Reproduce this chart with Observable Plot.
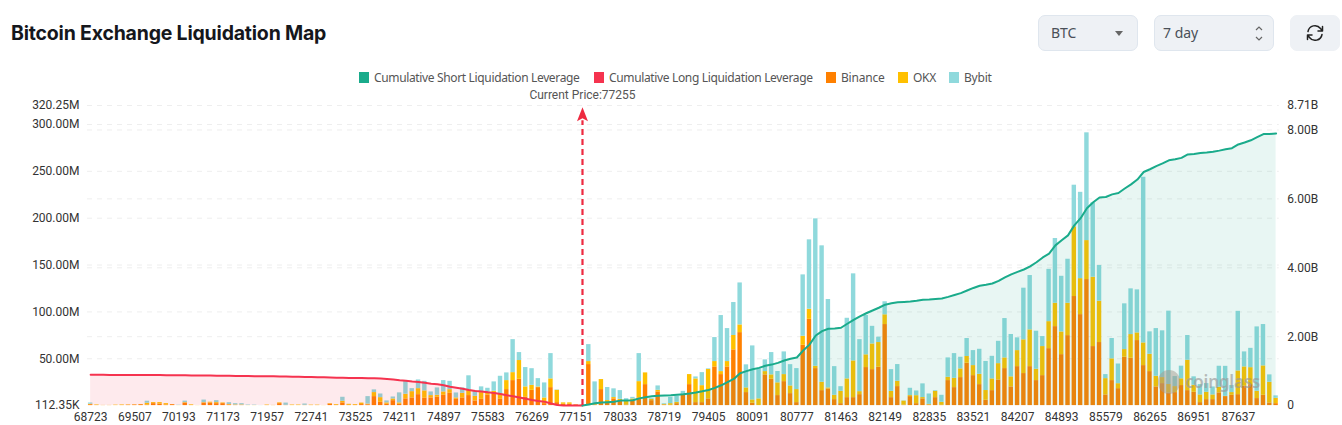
<!DOCTYPE html>
<html>
<head>
<meta charset="utf-8">
<script src="https://cdn.jsdelivr.net/npm/d3@7"></script>
<script src="https://cdn.jsdelivr.net/npm/@observablehq/plot@0.6"></script>
<style>
html,body{margin:0;padding:0;background:#fff;width:1342px;height:425px;overflow:hidden}
#wrap{position:relative;width:1342px;height:425px}
#head{position:relative;height:86px}
h1{position:absolute;left:11px;top:19px;margin:0;font:700 19.5px/28px Inter,sans-serif;color:#15171c;letter-spacing:-.2px;white-space:nowrap}
.ctl{position:absolute;top:15px;height:34px;background:#eef1f5;border:1px solid #dfe6ee;border-radius:7px;font:14px/34px "Noto Sans",sans-serif;color:#4a5058;box-sizing:content-box}
.ctl span{position:absolute;top:0}
#legend{position:absolute;top:70px;left:0;height:16px;width:1342px;font:12px/16px "Noto Sans",sans-serif;color:#555}
.li{position:absolute;top:0;white-space:nowrap}
.sw{position:absolute;top:2px;width:10px;height:11px}
#mark{position:absolute;left:1158px;top:368px;width:112px;height:30px;pointer-events:none}
#mark i{position:absolute;left:0;top:2px;width:22px;height:24px;border-radius:11px;background:#a39a8e;opacity:.5}
#mark b{position:absolute;left:27px;top:2px;font:600 17px/24px "Noto Sans",sans-serif;color:#9a9a9a;opacity:.65;letter-spacing:-.2px}
svg text{font-family:Roboto,sans-serif}
</style>
</head>
<body>
<div id="wrap">
<div id="head">
  <h1>Bitcoin Exchange Liquidation Map</h1>
  <div class="ctl" style="left:1038px;width:98px"><span style="left:12px">BTC</span>
    <svg style="position:absolute;left:76px;top:15px" width="8" height="5"><path d="M0 0H8L4 5Z" fill="#666"/></svg></div>
  <div class="ctl" style="left:1154px;width:118px"><span style="left:8px">7 day</span>
    <svg style="position:absolute;left:99px;top:9px" width="10" height="17" fill="none" stroke="#666" stroke-width="1.2"><path d="M2 5L5 2L8 5M2 12L5 15L8 12"/></svg></div>
  <div class="ctl" style="left:1290px;width:48px;border-color:#eef1f5">
    <svg style="position:absolute;left:15px;top:8px" width="18" height="18" viewBox="0 0 18 18" fill="none" stroke="#222" stroke-width="1.5" stroke-linecap="round" stroke-linejoin="round"><path d="M2 7.5A7 7 0 0 1 14.5 4.5L16.500 7M16.500 2.500V7H12M16 10.500A7 7 0 0 1 3.500 13.500L1.500 11M1.500 15.500V11H6"/></svg></div>
  <div id="legend"></div>
</div>
<div id="chart"></div>
<div id="mark"><i></i><b>coinglass</b></div>
</div>
<script>
const prices = [
68723,68821,68919,69017,69115,69213,69311,
69507,69605,69703,69801,69899,69997,70095,
70193,70291,70389,70585,70781,70879,71075,
71173,71271,71369,71467,71565,71663,71761,
71957,72055,72153,72251,72349,72447,72545,
72741,72839,72937,73035,73133,73231,73329,
73525,73623,73721,73819,73917,74015,74113,
74211,74309,74407,74505,74603,74701,74799,
74897,74995,75093,75191,75289,75387,75485,
75583,75681,75779,75877,75975,76073,76171,
76269,76367,76465,76563,76661,76759,76955,
77151,77249,77347,77445,77543,77641,77837,
78033,78131,78229,78327,78425,78523,78621,
78719,78817,78915,79013,79111,79209,79307,
79405,79503,79601,79699,79797,79895,79993,
80091,80189,80287,80385,80483,80581,80679,
80777,80875,80973,81071,81169,81267,81365,
81463,81561,81659,81757,81855,81953,82051,
82149,82247,82345,82443,82541,82639,82737,
82835,82933,83031,83129,83227,83325,83423,
83521,83619,83717,83815,83913,84011,84109,
84207,84305,84403,84501,84599,84697,84795,
84893,84991,85089,85187,85285,85383,85481,
85579,85677,85775,85873,85971,86069,86167,
86265,86363,86461,86559,86657,86755,86853,
86951,87049,87147,87245,87343,87441,87539,
87637,87735,87833,87931,88029,88127,88225];
const tickPrices = [68723,69507,70193,71173,71957,72741,73525,74211,74897,75583,76269,77151,78033,78719,79405,80091,80777,81463,82149,82835,83521,84207,84893,85579,86265,86951,87637];
const currentPriceLabel = "Current Price:77255";
const currentPriceCategory = 77249;
const arrowBaseM = 304, arrowHeadM = 311;

const binance = [
1,.1,.1,.1,0,.1,.5,.7,1,.5,
2.1,1.6,.6,1,0,2.7,.1,0,2.7,2.7,
2.1,2.1,.7,.2,.2,0,0,0,.1,.1,
2.1,.3,0,0,.1,.1,.1,0,1.6,.3,
2.9,.3,.3,1.1,.9,9.6,3.5,1.4,5.3,1.4,
7.2,8.2,11.7,7.8,8.2,8.9,11,13.1,6.7,8.2,
10.7,5,6.7,11,13.9,6.7,17.1,26.7,28.1,9.3,
16.3,19.2,2.1,19.2,3.2,1.4,1.4,.7,.3,43.8,
.7,17.1,2.9,7.2,5.3,.7,5,8.2,22.4,5.3,
14.6,.7,.3,2.1,11.7,22.4,3.2,3.2,7.2,41.3,
33.1,41.3,59.5,77.9,13.9,2.5,0,32.8,28.1,10.7,
25.6,12.8,3.2,64.4,92.1,39.5,16,17.8,6.4,2.1,
8.5,8.5,11.7,40.6,38.4,40.9,86.5,8.5,20.3,.5,
9.6,2.1,7.2,.7,8.5,.3,26.7,19.2,29.9,45.2,
32,22.4,5.7,16,27.4,39.5,20,41.6,34.2,41.6,
26.7,32,60.8,84.3,54.4,74.7,116.4,97.1,134.5,63,
67.3,11.4,26.7,18.1,51.6,50.5,69.4,42.7,36.3,20,
23.5,13.6,13.9,21.4,16,14.2,3.2,6.4,6.4,13.6,
9.6,11,11.7,20.6,22.4,7.5,11,2.9,2.1];
const okx = [
.5,.6,.1,.1,.5,.6,.3,.2,.2,2,
1.1,1.6,1.5,.1,.1,.5,.7,.1,.5,.9,
1.1,.7,.5,.5,.5,.1,.1,0,.5,.1,
.8,0,.6,.6,.2,.4,.4,.1,.5,.8,
1.7,1.1,.8,1.6,.7,4.3,5,1.5,1.8,1.5,
4.9,6.7,6.4,7.9,2.5,2.1,3.6,3.9,1.5,4.9,
5.7,4.9,7.2,2.6,1.4,5.8,9.6,8.5,20,10.7,
5.3,.7,6.1,9.3,13.1,1.5,1.5,.2,.1,3.2,
1.4,10.7,2.5,1.4,1.4,4.6,2.1,17.4,12.5,1.4,
1.7,.6,1.8,1.4,0,10.7,25.3,18.1,31.3,5.7,
3.2,5.7,15.3,8.2,5,3.6,7.2,3.5,4.7,13.6,
7.5,8.2,13.9,9.6,10.7,2.5,8.9,1.1,4.6,13.1,
20,39.2,3.2,13.6,27.4,26.4,10.4,6.7,5.7,4.3,
1.1,8.5,1.4,.6,6.7,3.2,3.5,9.9,9.3,7.2,
10.7,11,10.4,12.5,17.4,11.4,10.7,17.1,36,39.2,
12.1,31,28.8,24.9,24.2,34.5,74.4,38.4,41.6,74,
44.1,17.4,23.2,5.3,8.2,25.3,8.2,24.2,18.5,11.3,
6.4,8.9,6.4,7.2,32.4,7.5,8.2,7.8,5,6,
.3,2.9,25.3,20.7,18.1,7.8,31.4,22,5.7];
const bybit = [
1.3,0,0,0,0,0,0,0,0,2.2,
0,0,0,0,.3,1.6,0,0,2.7,0,
2.1,0,1.9,1.4,1.4,.5,.4,.1,0,0,
0,2.4,0,0,1.4,0,0,0,0,0,
4.3,0,0,0,8,2.9,3.9,2.1,2.1,10.7,
13.9,3.2,9.3,10.2,3.9,7.9,12.1,8.9,5.3,5.8,
15.4,5.8,6.1,4.9,10,18.8,8.2,35.2,8.5,20.6,
17.8,8.9,16,27,.4,0,0,0,.1,18.1,
23.2,0,13.9,9.3,9.3,2.1,1.7,29.9,0,.7,
4.7,.7,6.7,6.4,3.5,0,2.1,13.9,.7,25.6,
59.8,35.2,35.2,44.8,24.6,57.6,32,12.5,23.8,12.1,
24.2,22.7,22.4,65.5,74.1,157.3,145.6,94.3,30.6,5,
64.7,92.9,55.5,42,18.8,5.7,13.9,23.2,17.8,.2,
7.8,5,14.6,11.1,.7,7.5,20.7,26.4,12.4,19.2,
16,26.7,31,24.1,23.8,42,45.2,13.6,55.1,58,
40.6,10.7,55.8,69.1,59.4,47,44.4,92.1,115,79.4,
38.1,4.3,21.7,21,48.8,48.8,45.9,176.8,23.9,50.9,
49.9,78.3,10.7,13.5,26.4,9,11,9.3,8.5,22.4,
32,7.5,63.6,16,20.6,68.7,44.1,7.9,2.6];
const longCum = [
.893,.892,.892,.891,.891,.890,.890,.889,.889,.888,
.887,.885,.883,.882,.880,.878,.877,.875,.873,.871,
.869,.867,.865,.862,.860,.858,.855,.853,.851,.849,
.847,.843,.840,.837,.833,.830,.825,.820,.815,.810,
.805,.804,.803,.800,.797,.795,.785,.770,.755,.735,
.720,.700,.685,.660,.635,.620,.590,.550,.520,.490,
.450,.425,.410,.385,.365,.335,.300,.270,.235,.200,
.165,.135,.115,.060,.015,.005,.002,.001,0];
const shortCum = [
0,.03,.07,.09,.10,.11,.145,.145,.155,.21,
.24,.27,.285,.295,.30,.315,.33,.35,.38,.415,
.455,.515,.59,.68,.775,.94,1.0,1.055,1.095,1.155,
1.19,1.24,1.31,1.36,1.395,1.6,1.77,2.035,2.16,2.23,
2.24,2.26,2.375,2.49,2.59,2.68,2.76,2.84,2.93,2.97,
3.0,3.01,3.02,3.04,3.07,3.08,3.095,3.11,3.155,3.21,
3.265,3.34,3.415,3.48,3.51,3.545,3.62,3.72,3.81,3.88,
3.95,4.04,4.16,4.30,4.41,4.65,4.80,4.94,5.23,5.44,
5.73,5.90,6.04,6.055,6.13,6.17,6.30,6.42,6.56,6.78,
6.86,6.95,7.03,7.12,7.15,7.19,7.29,7.305,7.33,7.345,
7.365,7.40,7.44,7.47,7.58,7.635,7.70,7.79,7.88,7.885,7.90];

const leftMax = 320.25, rightMax = 8.71, leftMin = 0.11235;
const leftTicks = [leftMin,50,100,150,200,250,300,leftMax];
const rightTicks = [0,2,4,6,8,rightMax];
const toLeft = b => b * leftMax / rightMax;

const seriesNames = ["Binance","OKX","Bybit"];
const seriesColors = ["#ff8000","#ffc000","#8fd9dc"];
const COL_SHORT = "#1aab8b", COL_LONG = "#f5334f";

const rows = seriesNames.flatMap((s,k) => {
  const vals = [binance,okx,bybit][k];
  return prices.map((p,i) => ({price:p, series:s, value:vals[i]}));
});
const longRows = longCum.map((b,i) => ({price:prices[i], y:toLeft(b)}));
const shortRows = shortCum.map((b,i) => ({price:prices[78+i], y:toLeft(b)}));

// legend (HTML, above the svg)
const legendItems = [
 ["Cumulative Short Liquidation Leverage",COL_SHORT,359,-.35],
 ["Cumulative Long Liquidation Leverage",COL_LONG,594,-.35],
 ["Binance",seriesColors[0],826,-.2],
 ["OKX",seriesColors[1],898,-.3],
 ["Bybit",seriesColors[2],949,-.2]];
const lg = document.getElementById("legend");
legendItems.forEach(([t,c,x,ls]) => {
  const d = document.createElement("div"); d.className="li"; d.style.left=x+"px";
  d.innerHTML = `<span class="sw" style="left:0;background:${c}"></span><span style="margin-left:15px;letter-spacing:${ls}px">${t}</span>`;
  lg.appendChild(d);
});

const arrowSymbol = {draw(ctx){ctx.moveTo(0,-7);ctx.lineTo(5.5,7);ctx.lineTo(0,4);ctx.lineTo(-5.5,7);ctx.closePath();}};

const chart = Plot.plot({
  width:1342, height:339,
  marginTop:19, marginBottom:20, marginLeft:87, marginRight:63.25,
  style:{background:"transparent",fontFamily:"Roboto,sans-serif",fontSize:"12px",color:"#333",overflow:"visible"},
  x:{type:"band",domain:prices,paddingInner:.3,paddingOuter:.15,round:false,label:null},
  y:{domain:[leftMin,leftMax],label:null},
  color:{domain:seriesNames,range:seriesColors},
  marks:[
    Plot.ruleY(leftTicks.slice(1),{stroke:"#eeeeee",strokeDasharray:"5,5",strokeWidth:1}),
    Plot.ruleY(rightTicks.slice(1,5).map(toLeft),{stroke:"#eeeeee",strokeDasharray:"5,5",strokeWidth:1}),
    Plot.barY(rows,Plot.stackY({x:"price",y:"value",z:"series",fill:"series",order:seriesNames})),
    Plot.areaY(longRows,{x:"price",y1:leftMin,y2:"y",fill:COL_LONG,fillOpacity:.1,curve:"linear"}),
    Plot.areaY(shortRows,{x:"price",y1:leftMin,y2:"y",fill:COL_SHORT,fillOpacity:.1,curve:"linear"}),
    Plot.lineY(longRows,{x:"price",y:"y",stroke:COL_LONG,strokeWidth:2}),
    Plot.lineY(shortRows,{x:"price",y:"y",stroke:COL_SHORT,strokeWidth:2}),
    Plot.ruleX([currentPriceCategory],{y1:leftMin,y2:arrowBaseM,stroke:"#ee2a40",strokeWidth:2.2,strokeDasharray:"6,4"}),
    Plot.dot([currentPriceCategory],{x:d=>d,y:()=>arrowHeadM,symbol:arrowSymbol,r:5,fill:"#ee2a40",stroke:"none"}),
    Plot.text([currentPriceCategory],{x:d=>d,frameAnchor:"top",dy:-15,text:()=>currentPriceLabel,fill:"#555",fontSize:12,fontFamily:"Noto Sans,sans-serif"}),
    Plot.axisX({ticks:tickPrices,tickSize:0,tickPadding:7,label:null,tickFormat:d=>String(d),fill:"#333",fontSize:12}),
    Plot.axisY({anchor:"left",ticks:leftTicks,tickSize:0,tickPadding:8,label:null,fill:"#333",fontSize:12,
      tickFormat:v=>v<1?(v*1000).toFixed(2)+"K":v.toFixed(2)+"M"}),
    Plot.axisY({anchor:"right",ticks:rightTicks.map(toLeft),tickSize:0,tickPadding:8,label:null,fill:"#333",fontSize:12,
      tickFormat:v=>{const b=v*rightMax/leftMax;return b<1e-6?"0":b.toFixed(2)+"B";}})
  ]
});
document.getElementById("chart").appendChild(chart);
</script>
</body>
</html>
